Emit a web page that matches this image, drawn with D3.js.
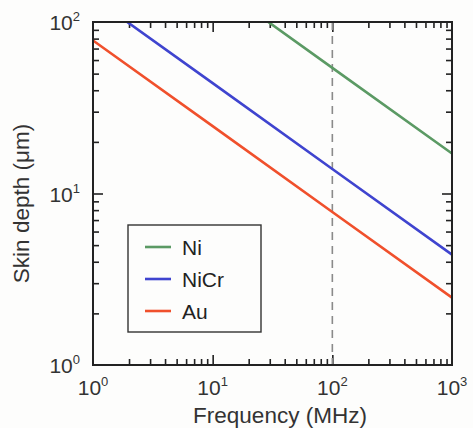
<!DOCTYPE html>
<html>
<head>
<meta charset="utf-8">
<script src="https://cdn.jsdelivr.net/npm/d3@7/dist/d3.min.js"></script>
<style>
  html, body { margin: 0; padding: 0; background: #fdfdfc; }
  svg { display: block; font-family: "Liberation Sans", Arial, Helvetica, sans-serif; }
</style>
</head>
<body>
<svg id="chart" width="473" height="428"></svg>
<script>
// Skin depth (µm) versus frequency (MHz), read at each decade
const frequencies = [1, 10, 100, 1000];
const seriesNames = ["Ni", "NiCr", "Au"];
const niDepth   = [540, 171, 54, 17.1];
const niCrDepth = [139, 44, 13.9, 4.4];
const auDepth   = [78, 24.7, 7.8, 2.47];
const seriesColors = ["#5b9a64", "#3f44cf", "#f0502c"];
const xTickExponents = [0, 1, 2, 3];
const yTickExponents = [0, 1, 2];
const markerFrequency = 100;

const series = seriesNames.map((name, i) => ({
  name,
  color: seriesColors[i],
  values: [niDepth, niCrDepth, auDepth][i]
}));

const margin = { left: 93, top: 22, right: 21, bottom: 63 };
const W = 473, H = 428;
const svg = d3.select("#chart");

const x = d3.scaleLog().domain([1, 1000]).range([margin.left, W - margin.right]);
const y = d3.scaleLog().domain([1, 100]).range([H - margin.bottom, margin.top]);

const [x0, x1] = x.range();
const [y0, y1] = y.range(); // y0 bottom, y1 top

svg.append("defs").append("clipPath").attr("id", "plot-clip")
  .append("rect").attr("x", x0).attr("y", y1).attr("width", x1 - x0).attr("height", y0 - y1);

const isMajor = v => Math.abs(Math.log10(v) - Math.round(Math.log10(v))) < 1e-9;
const MAJOR = 10, MINOR = 6;

// Inward ticks on all four sides
function styleTicks(g, sign) {
  g.select(".domain").remove();
  g.selectAll(".tick line")
    .attr("stroke", "#222")
    .attr("stroke-width", 1.6);
  g.selectAll(".tick").each(function(d) {
    const ln = d3.select(this).select("line");
    const len = (isMajor(d) ? MAJOR : MINOR) * sign;
    if (ln.attr("x2") !== null && +ln.attr("x2") !== 0) ln.attr("x2", len);
    else ln.attr("y2", len);
  });
}

const xTicks = x.ticks().filter(v => v > 1 && v < 1000);
const yTicks = y.ticks().filter(v => v > 1 && v < 100);

svg.append("g").attr("transform", `translate(0,${y0})`)
  .call(d3.axisBottom(x).tickValues(xTicks).tickFormat("").tickSizeOuter(0).tickSize(-MINOR))
  .call(g => styleTicks(g, -1));
svg.append("g").attr("transform", `translate(0,${y1})`)
  .call(d3.axisTop(x).tickValues(xTicks).tickFormat("").tickSizeOuter(0).tickSize(-MINOR))
  .call(g => styleTicks(g, 1));
svg.append("g").attr("transform", `translate(${x0},0)`)
  .call(d3.axisLeft(y).tickValues(yTicks).tickFormat("").tickSizeOuter(0).tickSize(-MINOR))
  .call(g => styleTicks(g, 1));
svg.append("g").attr("transform", `translate(${x1},0)`)
  .call(d3.axisRight(y).tickValues(yTicks).tickFormat("").tickSizeOuter(0).tickSize(-MINOR))
  .call(g => styleTicks(g, -1));

// Dashed marker at 100 MHz
svg.append("line")
  .attr("x1", x(markerFrequency)).attr("x2", x(markerFrequency))
  .attr("y1", y1).attr("y2", y0)
  .attr("stroke", "#8a8a8a").attr("stroke-width", 1.6)
  .attr("stroke-dasharray", "8,6");

// Series lines
const line = d3.line().x((d, i) => x(frequencies[i])).y(d => y(d));
svg.append("g").attr("clip-path", "url(#plot-clip)")
  .selectAll("path").data(series).join("path")
  .attr("d", d => line(d.values))
  .attr("fill", "none")
  .attr("stroke", d => d.color)
  .attr("stroke-width", 2.6);

// Frame
svg.append("rect")
  .attr("x", x0).attr("y", y1).attr("width", x1 - x0).attr("height", y0 - y1)
  .attr("fill", "none").attr("stroke", "#222").attr("stroke-width", 2);

// Power-of-ten tick labels
function powLabel(sel, exp) {
  sel.append("tspan").text("10");
  sel.append("tspan").attr("dy", -9).attr("font-size", 13).text(exp);
}
svg.append("g").selectAll("text").data(xTickExponents).join("text")
  .attr("x", d => x(Math.pow(10, d)))
  .attr("y", 395)
  .attr("text-anchor", "middle")
  .attr("font-size", 21).attr("fill", "#333")
  .each(function(d) { powLabel(d3.select(this), d); });

svg.append("g").selectAll("text").data(yTickExponents).join("text")
  .attr("x", x0 - 13)
  .attr("y", d => y(Math.pow(10, d)) + 8)
  .attr("text-anchor", "end")
  .attr("font-size", 21).attr("fill", "#333")
  .each(function(d) { powLabel(d3.select(this), d); });

// Axis titles
svg.append("text")
  .attr("x", 280).attr("y", 423)
  .attr("text-anchor", "middle").attr("font-size", 22.5).attr("fill", "#333")
  .text("Frequency (MHz)");
svg.append("text")
  .attr("transform", `translate(29,${(y0 + y1) / 2 + 10}) rotate(-90)`)
  .attr("text-anchor", "middle").attr("font-size", 22.5).attr("fill", "#333")
  .text("Skin depth (μm)");

// Legend
const legend = svg.append("g").attr("transform", "translate(128,225)");
legend.append("rect")
  .attr("width", 133).attr("height", 107)
  .attr("fill", "#fdfdfc").attr("stroke", "#333").attr("stroke-width", 1.4);
const items = legend.selectAll("g.item").data(series).join("g")
  .attr("class", "item")
  .attr("transform", (d, i) => `translate(0,${22 + i * 32})`);
items.append("line")
  .attr("x1", 17).attr("x2", 43)
  .attr("stroke", d => d.color).attr("stroke-width", 2.6);
items.append("text")
  .attr("x", 54).attr("y", 7.5)
  .attr("font-size", 21).attr("fill", "#222")
  .text(d => d.name);
</script>
</body>
</html>
